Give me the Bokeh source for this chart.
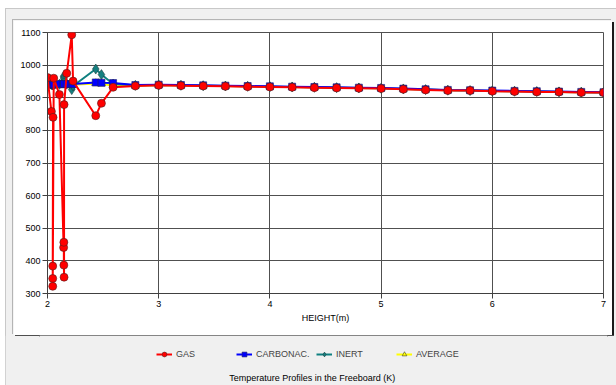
from bokeh.plotting import figure
from bokeh.layouts import column
from bokeh.models import (Legend, LegendItem, Label, Range1d, FixedTicker)
from bokeh.embed import file_html
from bokeh.resources import INLINE

# ---------------- data ----------------
height_m = [2.00, 2.035, 2.05, 2.047, 2.047, 2.047, 2.056, 2.107, 2.145, 2.147,
            2.147, 2.149, 2.149, 2.173, 2.218, 2.23, 2.434, 2.485, 2.59, 2.79,
            3.0, 3.2, 3.4, 3.6, 3.8, 4.0, 4.2, 4.4, 4.6, 4.8,
            5.0, 5.2, 5.4, 5.6, 5.8, 6.0, 6.2, 6.4, 6.6, 6.8, 7.0]

gas = [962, 858, 840, 384, 346, 322, 960, 910, 441, 457,
       387, 350, 879, 975, 1093, 951, 845, 883, 932, 936,
       938, 937, 936, 935, 934, 933, 932, 931, 930, 929,
       928, 926, 924, 922, 922, 920, 919, 918, 918, 916, 916]

carbonac = [941, 941, 941, 941, 941, 941, 941, 942, 942, 942,
            942, 942, 942, 942, 942, 942, 947, 946, 945, 939,
            940, 939, 938, 937, 936, 935, 934, 933, 932, 931,
            930, 928, 926, 924, 923, 922, 921, 920, 919, 918, 917]

inert = [940, 940, 940, 940, 940, 940, 940, 941, 966, 962,
         958, 952, 946, 942, 925, 936, 988, 971, 942, 938,
         939, 938, 937, 936, 935, 934, 933, 932, 931, 930,
         929, 927, 925, 923, 922, 921, 920, 919, 918, 917, 916]

average = [940, 940, 940, 940, 940, 940, 940, 941, 942, 942,
           942, 942, 942, 942, 940, 940, 944, 943, 937, 937,
           939, 938, 937, 936, 935, 934, 933, 932, 931, 930,
           929, 927, 925, 923, 922, 921, 920, 919, 918, 917, 916]

x_ticks = [2, 3, 4, 5, 6, 7]
y_ticks = [300, 400, 500, 600, 700, 800, 900, 1000, 1100]
series_labels = ["GAS", "CARBONAC.", "INERT", "AVERAGE"]
x_label = "HEIGHT(m)"
chart_title = "Temperature Profiles in the Freeboard (K)"

FONT = "Liberation Sans"
FS = "9px"
GREY = "#f0f0f0"

styles = [
    dict(color="#ff0000", marker="circle", size=8, fill="#ff0000", edge="#502020"),
    dict(color="#0000ff", marker="square", size=7, fill="#0000ff", edge="#202060"),
    dict(color="#0f8080", marker="diamond", size=10, fill="#158080", edge="#204040"),
    dict(color="#ffff00", marker="triangle", size=8, fill="#ffff00", edge="#404040"),
]
series = [gas, carbonac, inert, average]

# ---------------- main chart panel ----------------
p = figure(width=599, height=315, output_backend="svg", toolbar_location=None,
           x_range=Range1d(2, 7), y_range=Range1d(300, 1100),
           min_border_left=34, min_border_right=9, min_border_top=12,
           min_border_bottom=42, margin=(12, 0, 0, 8),
           styles={"box-shadow": "-1px -1px 0 0 #b4b4b4, 2px 2px 0 0 #1a1a1a"})
p.border_fill_color = "white"
p.background_fill_color = "white"
p.outline_line_color = "#505050"

renderers = []
for vals, st in zip(series, styles):
    ln = p.line(height_m, vals, line_color=st["color"], line_width=2)
    sc = p.scatter(height_m, vals, marker=st["marker"], size=st["size"],
                   fill_color=st["fill"], line_color=st["edge"], line_width=0.6)
    renderers.append((ln, sc))
# draw order: average, inert, carbonac, gas (gas on top)
p.renderers = [r for pair in reversed(renderers) for r in pair]

p.xaxis.ticker = FixedTicker(ticks=x_ticks)
p.yaxis.ticker = FixedTicker(ticks=y_ticks)
p.xaxis.axis_label = x_label
for ax in (p.xaxis[0], p.yaxis[0]):
    ax.major_label_text_font = FONT
    ax.major_label_text_font_size = FS
    ax.major_label_text_color = "#000000"
    ax.axis_line_color = "#404040"
    ax.major_tick_line_color = "#404040"
    ax.major_tick_out = 5
    ax.major_tick_in = 0
    ax.minor_tick_line_color = None
    ax.major_label_standoff = 2
p.xaxis.axis_label_text_font = FONT
p.xaxis.axis_label_text_font_size = FS
p.xaxis.axis_label_text_font_style = "normal"
p.xaxis.axis_label_text_color = "#000000"
p.xaxis.axis_label_standoff = 3
p.xgrid.grid_line_color = "#505050"
p.ygrid.grid_line_color = "#505050"

# ---------------- legend + title strip ----------------
# (its frame is aligned by the column with the chart frame: 556 px wide)
q = figure(width=611, height=50, output_backend="svg", toolbar_location=None,
           x_range=Range1d(0, 556), y_range=Range1d(0, 50),
           x_axis_location=None, y_axis_location=None,
           min_border_left=0, min_border_right=0, min_border_top=0,
           min_border_bottom=0, margin=(0, 0, 0, 0))
q.grid.visible = False
q.outline_line_color = None
q.border_fill_color = GREY
q.background_fill_color = GREY

# same series, drawn outside this strip's view; only their legend glyphs show
items = []
for lab, vals, st in zip(series_labels, series, styles):
    ln = q.line(height_m, vals, line_color=st["color"], line_width=2)
    sc = q.scatter(height_m, vals, marker=st["marker"], size=st["size"] - 1,
                   fill_color=st["fill"], line_color=st["edge"], line_width=0.6)
    items.append(LegendItem(label=lab, renderers=[ln, sc]))

legend = Legend(items=items, orientation="horizontal", location=(117, 25),
                glyph_width=16, glyph_height=12, label_standoff=4,
                label_width=56, spacing=4, padding=2, margin=0,
                label_text_font=FONT, label_text_font_size=FS,
                label_height=12, background_fill_alpha=0,
                border_line_color=None)
q.add_layout(legend)

title = Label(x=267, y=8, text=chart_title, text_align="center",
              text_baseline="middle", text_font=FONT, text_font_size=FS,
              text_color="#000000")
q.add_layout(title)

page = column(p, q, width=611, height=377, spacing=0, margin=(8, 0, 0, 5),
              styles={"background-color": GREY,
                      "box-shadow": "inset 1px 1px 0 0 #c8c8c8"})

open("out.html", "w").write(file_html(page, INLINE))
